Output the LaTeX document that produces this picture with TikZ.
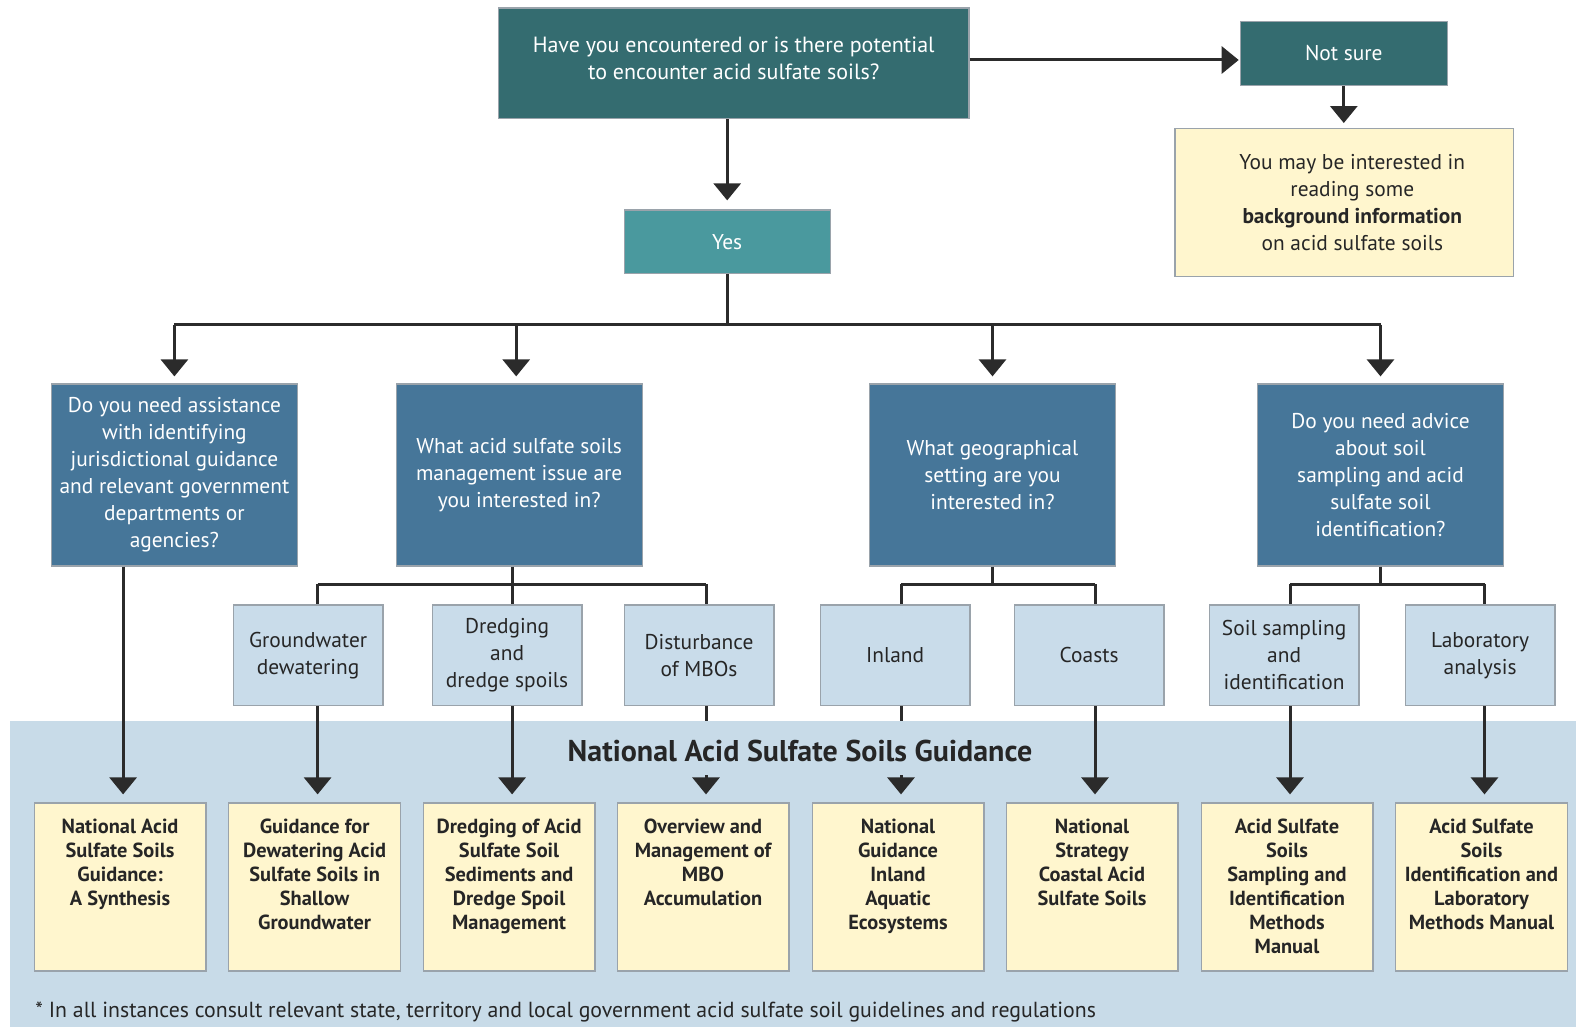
\documentclass[tikz,border=0pt]{standalone}
\usepackage{fontspec}
\setmainfont{PT Sans}
\usetikzlibrary{arrows.meta}
\definecolor{teala}{HTML}{346C70}
\definecolor{tealb}{HTML}{4A999E}
\definecolor{qblue}{HTML}{467699}
\definecolor{lblue}{HTML}{C9DCEA}
\definecolor{bandc}{HTML}{C8DBE8}
\definecolor{yel}{HTML}{FFF6CE}
\definecolor{edge}{HTML}{9AA3AB}
\definecolor{lin}{HTML}{2B2B2B}
\definecolor{txt}{HTML}{262626}
\tikzset{
  base/.style={rectangle, align=center, inner sep=2pt, draw=edge, line width=0.6pt,
    font=\fontsize{10.7}{13.5}\selectfont},
  topq/.style={base, fill=teala, text=white},
  yesb/.style={base, fill=tealb, text=white},
  qbox/.style={base, fill=qblue, text=white, minimum width=123.1pt, minimum height=91pt},
  opt/.style={base, fill=lblue, text=txt, minimum width=74.9pt, minimum height=50.25pt},
  info/.style={base, fill=yel, text=txt},
  doc/.style={base, fill=yel, text=txt, inner sep=0pt, minimum width=85.9pt, minimum height=84pt,
    font=\bfseries\fontsize{10.2}{12}\selectfont},
  conn/.style={line width=1.5pt, draw=lin},
  arr/.style={conn, -{Triangle[width=13.5pt,length=8.5pt]}, shorten >=4pt},
}
\newcommand{\doctext}[1]{\parbox[c][84pt][t]{85pt}{\centering\vspace*{8pt}#1}}
\begin{document}
\begin{tikzpicture}[x=0.5pt,y=-0.5pt]
\useasboundingbox (0,0) rectangle (1576,1027);
\fill[bandc] (10,720.6) rectangle (1576,1027);

% top row
\node[topq, inner sep=0pt, minimum width=235.25pt, minimum height=55.3pt, font=\fontsize{11}{13.5}\selectfont] (top) at (733.7,63.3)
  {\parbox[c][50pt][c]{225pt}{\centering Have you encountered or is there potential\\to encounter acid sulfate soils?\par\vspace{4.5pt}}};
\node[topq, minimum width=103.5pt, minimum height=32.15pt] (ns) at (1343.8,53.3) {Not sure};
\node[info, minimum width=169.35pt, minimum height=73.85pt] (info) at (1344.3,202.5)
  {\hspace*{8pt}\parbox{150pt}{\centering You may be interested in\\reading some\\\textbf{background information}\\on acid sulfate soils}};
\node[yesb, minimum width=103pt, minimum height=31.7pt] (yes) at (727.2,241.7) {Yes};

% question boxes
\node[qbox] (q1) at (174.4,475) {Do you need assistance\\with identifying\\jurisdictional guidance\\and relevant government\\departments or\\agencies?};
\node[qbox] (q2) at (519.2,475) {What acid sulfate soils\\management issue are\\you interested in?};
\node[qbox] (q3) at (992.5,475) {What geographical\\setting are you\\interested in?};
\node[qbox] (q4) at (1380.5,475) {Do you need advice\\about soil\\sampling and acid\\sulfate soil\\identification?};

% option boxes
\node[opt] (gw) at (308.1,655.3) {Groundwater\\dewatering};
\node[opt] (dr) at (507.1,655.3) {Dredging\\and\\dredge spoils};
\node[opt] (di) at (699.1,655.3) {Disturbance\\of MBOs};
\node[opt] (in) at (895.1,655.3) {Inland};
\node[opt] (co) at (1089.1,655.3) {Coasts};
\node[opt] (so) at (1284.1,655.3) {Soil sampling\\and\\identification};
\node[opt] (la) at (1480.1,655.3) {Laboratory\\analysis};

% band title and footnote
\node[font=\bfseries\fontsize{15}{18}\selectfont, text=txt] (title) at (800,750.8) {National Acid Sulfate Soils Guidance};
\node[anchor=west, inner sep=0pt, font=\fontsize{10.9}{13}\selectfont, text=txt] (note) at (35,1012)
  {* In all instances consult relevant state, territory and local government acid sulfate soil guidelines and regulations};

% documents
\node[doc] (b1) at (120.1,887) {\doctext{National Acid\\Sulfate Soils\\Guidance:\\A Synthesis}};
\node[doc] (b2) at (314.6,887) {\doctext{Guidance for\\Dewatering Acid\\Sulfate Soils in\\Shallow\\Groundwater}};
\node[doc] (b3) at (509.1,887) {\doctext{Dredging of Acid\\Sulfate Soil\\Sediments and\\Dredge Spoil\\Management}};
\node[doc] (b4) at (703,887) {\doctext{Overview and\\Management of\\MBO\\Accumulation}};
\node[doc] (b5) at (898,887) {\doctext{National\\Guidance\\Inland\\Aquatic\\Ecosystems}};
\node[doc] (b6) at (1092,887) {\doctext{National\\Strategy\\Coastal Acid\\Sulfate Soils}};
\node[doc] (b7) at (1287,887) {\doctext{Acid Sulfate\\Soils\\Sampling and\\Identification\\Methods\\Manual}};
\node[doc] (b8) at (1481.5,887) {\doctext{Acid Sulfate\\Soils\\Identification and\\Laboratory\\Methods Manual}};

% helper coordinates
\coordinate (bus) at (727.2,324.7);
\coordinate (row) at (0,584);
\coordinate (bandtop) at (0,720.6);
\coordinate (gapend) at (0,775);
\foreach \i in {1,...,8}{ \coordinate (c\i) at ([xshift=1.5pt]b\i.north); }

% connectors top
\draw[arr, shorten >=0.5pt] (top.east |- 0,60) -- (ns.west |- 0,60);
\draw[arr, shorten >=2.5pt] (ns.south) -- (ns.south |- info.north);
\draw[arr, shorten >=4.5pt] (top.south -| yes.north) -- (yes.north);
\draw[conn] (yes.south) -- (bus);
\draw[conn] (q1.north |- bus) -- (q4.north |- bus);
\draw[arr, shorten >=3.5pt] (q1.north |- bus) -- (q1.north);
\draw[arr, shorten >=3.5pt] ([xshift=-1.5pt]q2.north |- bus) -- ([xshift=-1.5pt]q2.north);
\draw[arr, shorten >=3.5pt] (q3.north |- bus) -- (q3.north);
\draw[arr, shorten >=3.5pt] (q4.north |- bus) -- (q4.north);

% sub buses
\draw[conn] (q2.south -| c3) -- (dr.north -| c3);
\draw[conn] (c2 |- row) -- (c4 |- row);
\draw[conn] (c2 |- row) -- (gw.north -| c2);
\draw[conn] (c4 |- row) -- (di.north -| c4);

\draw[conn] (q3.south) -- (q3.south |- row);
\draw[conn] (c5 |- row) -- (c6 |- row);
\draw[conn] (c5 |- row) -- (in.north -| c5);
\draw[conn] (c6 |- row) -- (co.north -| c6);

\draw[conn] (q4.south) -- (q4.south |- row);
\draw[conn] (c7 |- row) -- (c8 |- row);
\draw[conn] (c7 |- row) -- (so.north -| c7);
\draw[conn] (c8 |- row) -- (la.north -| c8);

% arrows to documents
\draw[arr] (q1.south -| c1) -- (c1);
\draw[arr] (gw.south -| c2) -- (c2);
\draw[arr] (dr.south -| c3) -- (c3);
\draw[conn] (di.south -| c4) -- (c4 |- bandtop);
\draw[arr] (c4 |- gapend) -- (c4);
\draw[conn] (in.south -| c5) -- (c5 |- bandtop);
\draw[arr] (c5 |- gapend) -- (c5);
\draw[arr] (co.south -| c6) -- (c6);
\draw[arr] (so.south -| c7) -- (c7);
\draw[arr] (la.south -| c8) -- (c8);
\end{tikzpicture}
\end{document}
